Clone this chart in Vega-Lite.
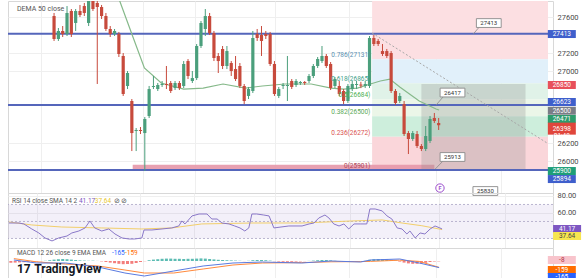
{
"$schema": "https://vega.github.io/schema/vega-lite/v6.json",
"padding": {"left": 6, "top": 0, "right": 0, "bottom": 0},
"spacing": 0,
"bounds": "flush",
"background": "white",
"config": {"view": {"stroke": "#d8d8d8", "strokeWidth": 1}, "font": "Roboto", "text": {"font": "Roboto"}, "axis": {"labelFont": "Roboto", "domain": false, "ticks": false, "title": null, "gridColor": "#efefef", "labelOverlap": false}},
"datasets": {
"candles": [
{"t":0,"o":27611,"h":27645,"l":27334,"c":27356},{"t":1,"o":27356,"h":27478,"l":27334,"c":27445},{"t":2,"o":27445,"h":27500,"l":27378,"c":27411},{"t":3,"o":27411,"h":27722,"l":27389,"c":27645},{"t":4,"o":27667,"h":27689,"l":27378,"c":27411},{"t":5,"o":27534,"h":27689,"l":27445,"c":27667},{"t":6,"o":27667,"h":27734,"l":27600,"c":27622},{"t":7,"o":27722,"h":27756,"l":27611,"c":27645},{"t":8,"o":27534,"h":27811,"l":27500,"c":27778},{"t":9,"o":27778,"h":27811,"l":27667,"c":27689},
{"t":10,"o":27756,"h":27778,"l":26856,"c":27711},{"t":11,"o":27711,"h":27734,"l":27578,"c":27611},{"t":12,"o":27611,"h":27645,"l":27445,"c":27467},{"t":13,"o":27467,"h":27500,"l":27378,"c":27411},{"t":14,"o":27411,"h":27467,"l":27389,"c":27445},{"t":15,"o":27411,"h":27434,"l":27156,"c":27189},{"t":16,"o":27167,"h":27200,"l":26723,"c":26745},{"t":17,"o":26834,"h":27000,"l":26800,"c":26978},{"t":18,"o":26667,"h":26689,"l":26111,"c":26311},{"t":19,"o":26334,"h":26367,"l":26111,"c":26345},
{"t":20,"o":26345,"h":26378,"l":26300,"c":26334},{"t":21,"o":26311,"h":26489,"l":25889,"c":26467},{"t":22,"o":26500,"h":26834,"l":26478,"c":26800},{"t":23,"o":26823,"h":26945,"l":26800,"c":26834},{"t":24,"o":26800,"h":26867,"l":26778,"c":26845},{"t":25,"o":26845,"h":26889,"l":26823,"c":26856},{"t":26,"o":26856,"h":27056,"l":26800,"c":26845},{"t":27,"o":26867,"h":26889,"l":26756,"c":26778},{"t":28,"o":26811,"h":26889,"l":26789,"c":26867},{"t":29,"o":26867,"h":26889,"l":26789,"c":26811},
{"t":30,"o":26834,"h":27111,"l":26811,"c":27078},{"t":31,"o":27111,"h":27133,"l":26911,"c":26945},{"t":32,"o":26889,"h":27000,"l":26867,"c":26922},{"t":33,"o":26922,"h":27300,"l":26900,"c":27278},{"t":34,"o":27278,"h":27556,"l":27256,"c":27534},{"t":35,"o":27467,"h":27689,"l":27389,"c":27611},{"t":36,"o":27611,"h":27645,"l":27400,"c":27422},{"t":37,"o":27422,"h":27445,"l":27111,"c":27145},{"t":38,"o":27167,"h":27200,"l":26978,"c":27111},{"t":39,"o":27245,"h":27278,"l":27022,"c":27056},
{"t":40,"o":27056,"h":27278,"l":27022,"c":27222},{"t":41,"o":27089,"h":27111,"l":26945,"c":27000},{"t":42,"o":27022,"h":27167,"l":26889,"c":26911},{"t":43,"o":27056,"h":27089,"l":26811,"c":26834},{"t":44,"o":26834,"h":26856,"l":26633,"c":26667},{"t":45,"o":26723,"h":26823,"l":26689,"c":26800},{"t":46,"o":26778,"h":27445,"l":26756,"c":27367},{"t":47,"o":27411,"h":27467,"l":27334,"c":27367},{"t":48,"o":27400,"h":27500,"l":27167,"c":27334},{"t":49,"o":27411,"h":27445,"l":27356,"c":27389},
{"t":50,"o":27411,"h":27434,"l":27056,"c":27078},{"t":51,"o":27078,"h":27111,"l":26723,"c":26745},{"t":52,"o":26723,"h":26823,"l":26700,"c":26800},{"t":53,"o":26834,"h":26867,"l":26800,"c":26845},{"t":54,"o":26834,"h":27167,"l":26667,"c":26845},{"t":55,"o":26889,"h":26911,"l":26800,"c":26823},{"t":56,"o":26845,"h":26911,"l":26823,"c":26889},{"t":57,"o":26867,"h":26889,"l":26845,"c":26878},{"t":58,"o":26878,"h":26889,"l":26845,"c":26867},{"t":59,"o":26889,"h":26967,"l":26867,"c":26945},
{"t":60,"o":26945,"h":27078,"l":26922,"c":27056},{"t":61,"o":27056,"h":27156,"l":27034,"c":27134},{"t":62,"o":27111,"h":27278,"l":27089,"c":27167},{"t":63,"o":27167,"h":27189,"l":27034,"c":27056},{"t":64,"o":27078,"h":27100,"l":26789,"c":26811},{"t":65,"o":26834,"h":26934,"l":26811,"c":26911},{"t":66,"o":26834,"h":26889,"l":26723,"c":26745},{"t":67,"o":26778,"h":26800,"l":26633,"c":26667},{"t":68,"o":26667,"h":26856,"l":26645,"c":26834},{"t":69,"o":26800,"h":26889,"l":26778,"c":26856},
{"t":70,"o":26845,"h":26889,"l":26800,"c":26856},{"t":71,"o":26850,"h":26880,"l":26810,"c":26838},{"t":72,"o":26834,"h":26889,"l":26811,"c":26856},{"t":73,"o":26834,"h":27389,"l":26811,"c":27367},{"t":74,"o":27367,"h":27400,"l":27278,"c":27300},{"t":75,"o":27334,"h":27356,"l":27278,"c":27300},{"t":76,"o":27222,"h":27300,"l":27167,"c":27189},{"t":77,"o":27222,"h":27245,"l":27145,"c":27167},{"t":78,"o":27200,"h":27222,"l":26756,"c":26778},{"t":79,"o":26778,"h":26800,"l":26623,"c":26645},
{"t":80,"o":26667,"h":26756,"l":26645,"c":26723},{"t":81,"o":26633,"h":26667,"l":26278,"c":26300},{"t":82,"o":26311,"h":26334,"l":26078,"c":26245},{"t":83,"o":26245,"h":26334,"l":26223,"c":26311},{"t":84,"o":26300,"h":26334,"l":26145,"c":26167},{"t":85,"o":26167,"h":26189,"l":26111,"c":26134},{"t":86,"o":26134,"h":26389,"l":26111,"c":26278},{"t":87,"o":26223,"h":26500,"l":26200,"c":26467},{"t":88,"o":26478,"h":26534,"l":26423,"c":26445},{"t":89,"o":26423,"h":26478,"l":26345,"c":26398}
],
"dema": [{"t":13.6,"p":27889},{"t":15.2,"p":27778},{"t":18.0,"p":27411},{"t":20.9,"p":27034},{"t":24.8,"p":26867},{"t":30.0,"p":26800},{"t":34.5,"p":26811},{"t":39.1,"p":26856},{"t":44.3,"p":26811},{"t":48.2,"p":26834},{"t":53.4,"p":26856},{"t":59.5,"p":26856},{"t":64.1,"p":26811},{"t":67.0,"p":26800},{"t":70.2,"p":26811},{"t":73.2,"p":26856},{"t":75.5,"p":26889},{"t":77.7,"p":26911},{"t":80.0,"p":26823},{"t":84.5,"p":26667},{"t":88.4,"p":26578},{"t":89.1,"p":26567}],
"hlines": [{"v":27413},{"v":26623},{"v":25900}],
"zones": [{"z":"a","lo":27131,"hi":27900,"t1":73.6,"t2":114.3},{"z":"b","lo":26865,"hi":27131,"t1":73.6,"t2":114.3},{"z":"c","lo":26684,"hi":26865,"t1":73.6,"t2":114.3},{"z":"d","lo":26499,"hi":26684,"t1":73.6,"t2":114.3},{"z":"e","lo":26270,"hi":26499,"t1":73.6,"t2":114.3},{"z":"f","lo":25901,"hi":26270,"t1":73.6,"t2":114.3}],
"fiblabels": [{"label":"0.786(27131)","t":73.2,"p":27131,"k":"b"},{"label":"0.618(26865)","t":73.2,"p":26865,"k":"c"},{"label":"0.5(26684)","t":73.2,"p":26684,"k":"d"},{"label":"0.382(26500)","t":73.2,"p":26499,"k":"e"},{"label":"0.236(26272)","t":73.2,"p":26270,"k":"f"},{"label":"0(25901)","t":73.2,"p":25901,"k":"g"}],
"band": [{"t1":18.2,"t2":88,"lo":25900,"hi":25960}],
"box": [{"t1":85,"t2":109.1,"lo":25912,"hi":26856}],
"trend": [{"t":73.6,"p":27422,"t2":114.1,"p2":26200}],
"callouts": [{"label":"27413","t":100.6,"p":27533},{"label":"26417","t":92.2,"p":26761},{"label":"25913","t":92.2,"p":26045},{"label":"25830","t":99.8,"p":25667}],
"leaders": [{"t":98.2,"p":27478,"t2":97.0,"p2":27411},{"t":90,"p":26711,"t2":88.4,"p2":26622},{"t":90,"p":26000,"t2":88.2,"p2":25911}],
"icon": [{"t":89.3,"p":25700,"label":"F"}],
"plegend": [{"t":-8.6,"p":27689,"label":"DEMA 50 close"}],
"pbadges": [{"label":"27413","at":27411,"k":"blue","bx":117.5},{"label":"26850","at":26845,"k":"red","bx":117.5},{"label":"26623","at":26656,"k":"blue","bx":117.5},{"label":"26500","at":26559,"k":"gray","bx":117.5},{"label":"26471","at":26467,"k":"green","bx":117.5},{"label":"25900","at":25889,"k":"teal","bx":117.5},{"label":"25894","at":25800,"k":"blue","bx":117.5}],
"lastbadge": [{"label":"26398\n01:48","at":26360,"bx":117.5}],
"rsi": [{"t":-9.3,"v":48.2},{"t":-7.0,"v":48.2},{"t":-5.9,"v":47.1},{"t":-4.1,"v":41.2},{"t":-2.5,"v":36.5},{"t":-1.1,"v":30.6},{"t":0.5,"v":27.1},{"t":2.0,"v":30.6},{"t":3.9,"v":32.9},{"t":5.0,"v":36.5},{"t":6.6,"v":38.8},{"t":8.0,"v":42.4},{"t":9.1,"v":50.6},{"t":10.2,"v":42.4},{"t":11.8,"v":38.8},{"t":13.4,"v":41.2},{"t":14.8,"v":35.3},{"t":16.4,"v":30.6},{"t":18.0,"v":29.4},{"t":19.3,"v":29.4},{"t":20.9,"v":30.6},{"t":21.4,"v":40.0},{"t":23.2,"v":40.0},{"t":25.5,"v":41.2},{"t":27.7,"v":42.4},{"t":29.3,"v":44.7},{"t":30.0,"v":50.6},{"t":30.7,"v":47.1},{"t":32.3,"v":56.5},{"t":33.9,"v":58.8},{"t":35.7,"v":58.8},{"t":36.8,"v":52.9},{"t":38.0,"v":52.9},{"t":39.1,"v":48.2},{"t":40.7,"v":47.1},{"t":42.0,"v":44.7},{"t":43.2,"v":42.4},{"t":44.3,"v":38.8},{"t":45.2,"v":42.4},{"t":45.9,"v":58.8},{"t":47.0,"v":58.8},{"t":48.6,"v":57.6},{"t":49.8,"v":56.5},{"t":50.9,"v":42.4},{"t":54.3,"v":44.7},{"t":57.3,"v":44.7},{"t":58.9,"v":47.1},{"t":60.0,"v":48.2},{"t":61.1,"v":54.1},{"t":62.5,"v":57.6},{"t":63.4,"v":54.1},{"t":64.5,"v":47.1},{"t":65.7,"v":44.7},{"t":66.8,"v":47.1},{"t":67.9,"v":41.2},{"t":69.1,"v":47.1},{"t":70.5,"v":47.1},{"t":72.0,"v":47.1},{"t":72.7,"v":64.7},{"t":73.9,"v":64.7},{"t":75.5,"v":62.4},{"t":76.6,"v":56.5},{"t":77.7,"v":52.9},{"t":78.9,"v":42.4},{"t":80.0,"v":41.2},{"t":81.1,"v":35.3},{"t":81.8,"v":38.8},{"t":83.0,"v":30.6},{"t":84.1,"v":36.5},{"t":85.2,"v":35.3},{"t":86.4,"v":41.2},{"t":87.5,"v":44.7},{"t":88.6,"v":42.4},{"t":89.1,"v":41.17}],
"sma": [{"t":-9.3,"v":49.4},{"t":-4.1,"v":45.9},{"t":2.7,"v":43.5},{"t":11.8,"v":42.4},{"t":20.9,"v":41.2},{"t":27.7,"v":42.4},{"t":34.5,"v":47.1},{"t":45.9,"v":48.2},{"t":57.3,"v":48.2},{"t":68.6,"v":50.6},{"t":75.5,"v":51.8},{"t":80.0,"v":48.2},{"t":84.5,"v":45.0},{"t":89.1,"v":40.5}],
"rband": [{"t1":-9.5,"t2":114.3,"lo":30,"hi":70}],
"rlevels": [{"v":70},{"v":50},{"v":30}],
"rlegend": [{"t":-8.6,"y":74,"label":"RSI 14 close SMA 14 2","k":"a"},{"t":6.6,"y":74,"label":"41.17","k":"b"},{"t":10.2,"y":74,"label":"37.64","k":"c"},{"t":14.5,"y":74,"label":"⊘ ⊘","k":"a"}],
"rbadges": [{"label":"41.17","at":41.17,"k":"rsi","bx":117.5},{"label":"37.64","at":32.9,"k":"sma","bx":117.5}],
"hist": [{"t":-10,"h":-45},{"t":-9,"h":-40},{"t":-8,"h":-35},{"t":-7,"h":-30},{"t":-6,"h":-25},{"t":-5,"h":-15},{"t":-4,"h":-10},{"t":-3,"h":-5},{"t":-2,"h":5},{"t":-1,"h":20},{"t":0,"h":35},{"t":1,"h":45},{"t":2,"h":50},{"t":3,"h":45},{"t":4,"h":35},{"t":5,"h":25},{"t":6,"h":15},{"t":7,"h":10},{"t":8,"h":5},{"t":9,"h":8},{"t":10,"h":2},{"t":11,"h":-10},{"t":12,"h":-25},{"t":13,"h":-40},{"t":14,"h":-55},{"t":15,"h":-70},{"t":16,"h":-80},{"t":17,"h":-75},{"t":18,"h":-70},{"t":19,"h":-50},{"t":20,"h":-25},{"t":21,"h":-5},{"t":22,"h":20},{"t":23,"h":35},{"t":24,"h":45},{"t":25,"h":55},{"t":26,"h":60},{"t":27,"h":60},{"t":28,"h":55},{"t":29,"h":55},{"t":30,"h":50},{"t":31,"h":55},{"t":32,"h":55},{"t":33,"h":60},{"t":34,"h":65},{"t":35,"h":60},{"t":36,"h":50},{"t":37,"h":40},{"t":38,"h":30},{"t":39,"h":25},{"t":40,"h":20},{"t":41,"h":15},{"t":42,"h":10},{"t":43,"h":5},{"t":44,"h":-3},{"t":45,"h":5},{"t":46,"h":20},{"t":47,"h":25},{"t":48,"h":25},{"t":49,"h":20},{"t":50,"h":10},{"t":51,"h":-5},{"t":52,"h":-15},{"t":53,"h":-20},{"t":54,"h":-20},{"t":55,"h":-20},{"t":56,"h":-15},{"t":57,"h":-10},{"t":58,"h":-5},{"t":59,"h":3},{"t":60,"h":10},{"t":61,"h":20},{"t":62,"h":25},{"t":63,"h":25},{"t":64,"h":15},{"t":65,"h":5},{"t":66,"h":-5},{"t":67,"h":-15},{"t":68,"h":-15},{"t":69,"h":-10},{"t":70,"h":-10},{"t":71,"h":-5},{"t":72,"h":3},{"t":73,"h":30},{"t":74,"h":45},{"t":75,"h":50},{"t":76,"h":50},{"t":77,"h":45},{"t":78,"h":30},{"t":79,"h":10},{"t":80,"h":-15},{"t":81,"h":-40},{"t":82,"h":-60},{"t":83,"h":-70},{"t":84,"h":-70},{"t":85,"h":-60},{"t":86,"h":-45},{"t":87,"h":-25},{"t":88,"h":-12},{"t":89,"h":-8}],
"macd": [{"t":-9.3,"m":25,"s":60},{"t":-4.1,"m":-50,"s":-20},{"t":2.7,"m":-50,"s":-75},{"t":10.2,"m":-150,"s":-125},{"t":16.4,"m":-300,"s":-225},{"t":20.9,"m":-375,"s":-300},{"t":27.7,"m":-250,"s":-300},{"t":34.5,"m":-125,"s":-200},{"t":41.4,"m":-50,"s":-100},{"t":48.2,"m":-25,"s":-50},{"t":57.3,"m":-50,"s":-40},{"t":64.1,"m":0,"s":-20},{"t":70.9,"m":-25,"s":-15},{"t":73.2,"m":25,"s":-10},{"t":80.0,"m":50,"s":20},{"t":84.5,"m":-50,"s":-10},{"t":89.1,"m":-165,"s":-159}],
"mlegend": [{"t":-8.6,"y":200,"label":"MACD 12 26 close 9 EMA EMA","k":"a"},{"t":13.4,"y":200,"label":"-165","k":"b"},{"t":16.4,"y":200,"label":"-159","k":"c"}],
"logo": [{"t":-8.6,"v":-200,"label":"17"},{"t":-4.6,"v":-200,"label":"TradingView"}],
"mbadges": [{"label":"-8","at":25,"k":"hist","bx":117.5},{"label":"-159","at":-225,"k":"sig","bx":117.5},{"label":"-165","at":-400,"k":"macd","bx":117.5}]
},
"vconcat": [
{
"width": 545, "height": 192,
"resolve": {"scale": {"color": "independent"}},
"layer": [
{"data": {"name": "zones"}, "mark": {"type": "rect", "clip": true},
 "encoding": {
  "x": {"field": "t1", "type": "quantitative", "scale": {"domain": [-9.5, 114.3], "nice": false, "zero": false}, "axis": {"values": [-3, 20.5, 32.7, 51.1, 68.2, 88.4, 103.4], "labels": false, "grid": true}},
  "x2": {"field": "t2"},
  "y": {"field": "lo", "type": "quantitative", "scale": {"domain": [25645, 27778], "nice": false, "zero": false}, "axis": {"orient": "right", "values": [27600, 27200, 27000, 26200, 26000], "format": "d", "labelOverlap": false, "labelFontSize": 7.5, "labelColor": "#4a4a4a", "grid": true, "labelPadding": 4}},
  "y2": {"field": "hi"},
  "color": {"field": "z", "type": "nominal", "scale": {"domain": ["a", "b", "c", "d", "e", "f"], "range": ["#fcdfe2", "#e1f0fa", "#e0f2e8", "#ebf6e8", "#cdeedc", "#fad6da"]}, "legend": null}}},
{"data": {"name": "band"}, "mark": {"type": "rect", "color": "#e597a9", "opacity": 0.9},
 "encoding": {"x": {"field": "t1", "type": "quantitative"}, "x2": {"field": "t2"}, "y": {"field": "lo", "type": "quantitative"}, "y2": {"field": "hi"}}},
{"data": {"name": "box"}, "mark": {"type": "rect", "color": "#8c8c8c", "opacity": 0.28},
 "encoding": {"x": {"field": "t1", "type": "quantitative"}, "x2": {"field": "t2"}, "y": {"field": "lo", "type": "quantitative"}, "y2": {"field": "hi"}}},
{"data": {"name": "hlines"}, "mark": {"type": "rule", "color": "#5566bb", "strokeWidth": 2},
 "encoding": {"y": {"field": "v", "type": "quantitative"}}},
{"data": {"name": "trend"}, "mark": {"type": "rule", "color": "#a8a8a8", "strokeWidth": 1, "strokeDash": [2, 2]},
 "encoding": {"x": {"field": "t", "type": "quantitative"}, "x2": {"field": "t2"}, "y": {"field": "p", "type": "quantitative"}, "y2": {"field": "p2"}}},
{"data": {"name": "dema"}, "mark": {"type": "line", "color": "#86b98a", "strokeWidth": 1.2, "clip": true},
 "encoding": {"x": {"field": "t", "type": "quantitative"}, "y": {"field": "p", "type": "quantitative"}}},
{"data": {"name": "candles"}, "mark": {"type": "rule", "strokeWidth": 1, "clip": true},
 "encoding": {"x": {"field": "t", "type": "quantitative"}, "y": {"field": "l", "type": "quantitative"}, "y2": {"field": "h"},
  "color": {"condition": {"test": "datum.c >= datum.o", "value": "#4b9f7c"}, "value": "#c74a3c"}}},
{"data": {"name": "candles"}, "mark": {"type": "bar", "size": 3.2, "clip": true},
 "encoding": {"x": {"field": "t", "type": "quantitative"}, "y": {"field": "o", "type": "quantitative"}, "y2": {"field": "c"},
  "color": {"condition": {"test": "datum.c >= datum.o", "value": "#4b9f7c"}, "value": "#c74a3c"}}},
{"data": {"name": "fiblabels"}, "mark": {"type": "text", "fontSize": 6.5, "align": "right", "baseline": "bottom", "dy": -1},
 "encoding": {"x": {"field": "t", "type": "quantitative"}, "y": {"field": "p", "type": "quantitative"}, "text": {"field": "label"},
  "color": {"field": "k", "type": "nominal", "scale": {"domain": ["b", "c", "d", "e", "f", "g"], "range": ["#5a8fb0", "#3f9f8a", "#4caf50", "#5aa855", "#d9534f", "#b04a5a"]}, "legend": null}}},
{"data": {"name": "leaders"}, "mark": {"type": "rule", "color": "#8a8a8a", "strokeWidth": 0.8},
 "encoding": {"x": {"field": "t", "type": "quantitative"}, "x2": {"field": "t2"}, "y": {"field": "p", "type": "quantitative"}, "y2": {"field": "p2"}}},
{"data": {"name": "callouts"}, "mark": {"type": "point", "shape": "M-3.1,-1.1H3.1V1.1H-3.1Z", "size": 64, "filled": false, "fill": "white", "stroke": "#8a8a8a", "strokeWidth": 0.9, "opacity": 1},
 "encoding": {"x": {"field": "t", "type": "quantitative"}, "y": {"field": "p", "type": "quantitative"}}},
{"data": {"name": "callouts"}, "mark": {"type": "text", "fontSize": 6, "color": "#333333", "align": "center", "baseline": "middle"},
 "encoding": {"x": {"field": "t", "type": "quantitative"}, "y": {"field": "p", "type": "quantitative"}, "text": {"field": "label"}}},
{"data": {"name": "icon"}, "mark": {"type": "point", "shape": "circle", "size": 70, "filled": false, "fill": "white", "stroke": "#9c4dcc", "strokeWidth": 1, "opacity": 1},
 "encoding": {"x": {"field": "t", "type": "quantitative"}, "y": {"field": "p", "type": "quantitative"}}},
{"data": {"name": "icon"}, "mark": {"type": "text", "fontSize": 5.5, "color": "#9c4dcc", "align": "center", "baseline": "middle", "fontWeight": "bold"},
 "encoding": {"x": {"field": "t", "type": "quantitative"}, "y": {"field": "p", "type": "quantitative"}, "text": {"field": "label"}}},
{"data": {"name": "plegend"}, "mark": {"type": "text", "fontSize": 7, "color": "#555555", "align": "left", "baseline": "middle"},
 "encoding": {"x": {"field": "t", "type": "quantitative"}, "y": {"field": "p", "type": "quantitative"}, "text": {"field": "label"}}},
{"data": {"name": "pbadges"}, "mark": {"type": "point", "shape": "M-3.5,-1H3.5V1H-3.5Z", "size": 64, "filled": true, "opacity": 1, "strokeWidth": 0},
 "encoding": {"x": {"field": "bx", "type": "quantitative"}, "y": {"field": "at", "type": "quantitative"},
  "color": {"field": "k", "type": "nominal", "scale": {"domain": ["blue", "red", "gray", "green", "teal"], "range": ["#3f5fcc", "#e8505b", "#7a7d86", "#2e9b6c", "#1f9e78"]}, "legend": null}}},
{"data": {"name": "pbadges"}, "mark": {"type": "text", "fontSize": 6.5, "color": "white", "align": "center", "baseline": "middle"},
 "encoding": {"x": {"field": "bx", "type": "quantitative"}, "y": {"field": "at", "type": "quantitative"}, "text": {"field": "label"}}},
{"data": {"name": "lastbadge"}, "mark": {"type": "point", "shape": "M-3.5,-1.5H3.5V1.5H-3.5Z", "size": 64, "filled": true, "opacity": 1, "color": "#e0463c", "strokeWidth": 0},
 "encoding": {"x": {"field": "bx", "type": "quantitative"}, "y": {"field": "at", "type": "quantitative"}}},
{"data": {"name": "lastbadge"}, "mark": {"type": "text", "fontSize": 6.5, "color": "white", "align": "center", "baseline": "middle", "lineBreak": "\n", "lineHeight": 7},
 "encoding": {"x": {"field": "bx", "type": "quantitative"}, "y": {"field": "at", "type": "quantitative"}, "text": {"field": "label"}}}
]
},
{
"width": 545, "height": 55,
"resolve": {"scale": {"color": "independent"}},
"layer": [
{"data": {"name": "rband"}, "mark": {"type": "rect", "color": "#7e57c2", "opacity": 0.09},
 "encoding": {
  "x": {"field": "t1", "type": "quantitative", "scale": {"domain": [-9.5, 114.3], "nice": false, "zero": false}, "axis": {"values": [-3, 20.5, 32.7, 51.1, 68.2, 88.4, 103.4], "labels": false, "grid": true}},
  "x2": {"field": "t2"},
  "y": {"field": "lo", "type": "quantitative", "scale": {"domain": [18.8, 83.5], "nice": false, "zero": false}, "axis": {"orient": "right", "values": [80, 60], "format": ".2f", "labelOverlap": false, "labelFontSize": 7.5, "labelColor": "#4a4a4a", "grid": true, "labelPadding": 4}},
  "y2": {"field": "hi"}}},
{"data": {"name": "rlevels"}, "mark": {"type": "rule", "color": "#a9a3c4", "strokeWidth": 0.8, "strokeDash": [2, 2]},
 "encoding": {"y": {"field": "v", "type": "quantitative"}}},
{"data": {"name": "sma"}, "mark": {"type": "line", "color": "#f2cf6b", "strokeWidth": 1},
 "encoding": {"x": {"field": "t", "type": "quantitative"}, "y": {"field": "v", "type": "quantitative"}}},
{"data": {"name": "rsi"}, "mark": {"type": "line", "color": "#8a78c8", "strokeWidth": 1},
 "encoding": {"x": {"field": "t", "type": "quantitative"}, "y": {"field": "v", "type": "quantitative"}}},
{"data": {"name": "rlegend"}, "mark": {"type": "text", "fontSize": 6.5, "align": "left", "baseline": "middle"},
 "encoding": {"x": {"field": "t", "type": "quantitative"}, "y": {"field": "y", "type": "quantitative"}, "text": {"field": "label"},
  "color": {"field": "k", "type": "nominal", "scale": {"domain": ["a", "b", "c"], "range": ["#555555", "#7e57c2", "#e8c630"]}, "legend": null}}},
{"data": {"name": "rbadges"}, "mark": {"type": "point", "shape": "M-3.5,-1H3.5V1H-3.5Z", "size": 64, "filled": true, "opacity": 1, "strokeWidth": 0},
 "encoding": {"x": {"field": "bx", "type": "quantitative"}, "y": {"field": "at", "type": "quantitative"},
  "color": {"field": "k", "type": "nominal", "scale": {"domain": ["rsi", "sma"], "range": ["#7e57c2", "#f7e54f"]}, "legend": null}}},
{"data": {"name": "rbadges"}, "mark": {"type": "text", "fontSize": 6.5, "align": "center", "baseline": "middle"},
 "encoding": {"x": {"field": "bx", "type": "quantitative"}, "y": {"field": "at", "type": "quantitative"}, "text": {"field": "label"},
  "color": {"condition": {"test": "datum.k == 'sma'", "value": "#444444"}, "value": "white"}}}
]
},
{
"width": 545, "height": 31,
"resolve": {"scale": {"color": "independent"}},
"layer": [
{"data": {"name": "hist"}, "mark": {"type": "bar", "size": 3, "opacity": 0.75},
 "encoding": {
  "x": {"field": "t", "type": "quantitative", "scale": {"domain": [-9.5, 114.3], "nice": false, "zero": false}, "axis": {"values": [-3, 20.5, 32.7, 51.1, 68.2, 88.4, 103.4], "labels": false, "grid": true}},
  "y": {"field": "h", "type": "quantitative", "scale": {"domain": [-450, 325], "nice": false}, "axis": null},
  "color": {"condition": {"test": "datum.h >= 0", "value": "#26a69a"}, "value": "#ef5350"}}},
{"data": {"name": "macd"}, "mark": {"type": "line", "color": "#ff8a3d", "strokeWidth": 1},
 "encoding": {"x": {"field": "t", "type": "quantitative"}, "y": {"field": "s", "type": "quantitative"}}},
{"data": {"name": "macd"}, "mark": {"type": "line", "color": "#5a7be0", "strokeWidth": 1},
 "encoding": {"x": {"field": "t", "type": "quantitative"}, "y": {"field": "m", "type": "quantitative"}}},
{"data": {"name": "mlegend"}, "mark": {"type": "text", "fontSize": 6.5, "align": "left", "baseline": "middle"},
 "encoding": {"x": {"field": "t", "type": "quantitative"}, "y": {"field": "y", "type": "quantitative"}, "text": {"field": "label"},
  "color": {"field": "k", "type": "nominal", "scale": {"domain": ["a", "b", "c"], "range": ["#555555", "#2962ff", "#ff6d00"]}, "legend": null}}},
{"data": {"name": "logo"}, "mark": {"type": "text", "fontSize": 12, "fontWeight": "bold", "color": "#131722", "align": "left", "baseline": "middle"},
 "encoding": {"x": {"field": "t", "type": "quantitative"}, "y": {"field": "v", "type": "quantitative"}, "text": {"field": "label"}}},
{"data": {"name": "mbadges"}, "mark": {"type": "point", "shape": "M-3.5,-1H3.5V1H-3.5Z", "size": 64, "filled": true, "opacity": 1, "strokeWidth": 0},
 "encoding": {"x": {"field": "bx", "type": "quantitative"}, "y": {"field": "at", "type": "quantitative"},
  "color": {"field": "k", "type": "nominal", "scale": {"domain": ["hist", "sig", "macd"], "range": ["#f8c4cc", "#ff6d00", "#2962ff"]}, "legend": null}}},
{"data": {"name": "mbadges"}, "mark": {"type": "text", "fontSize": 6.5, "align": "center", "baseline": "middle"},
 "encoding": {"x": {"field": "bx", "type": "quantitative"}, "y": {"field": "at", "type": "quantitative"}, "text": {"field": "label"},
  "color": {"condition": {"test": "datum.k == 'hist'", "value": "#b03040"}, "value": "white"}}}
]
}
]
}
